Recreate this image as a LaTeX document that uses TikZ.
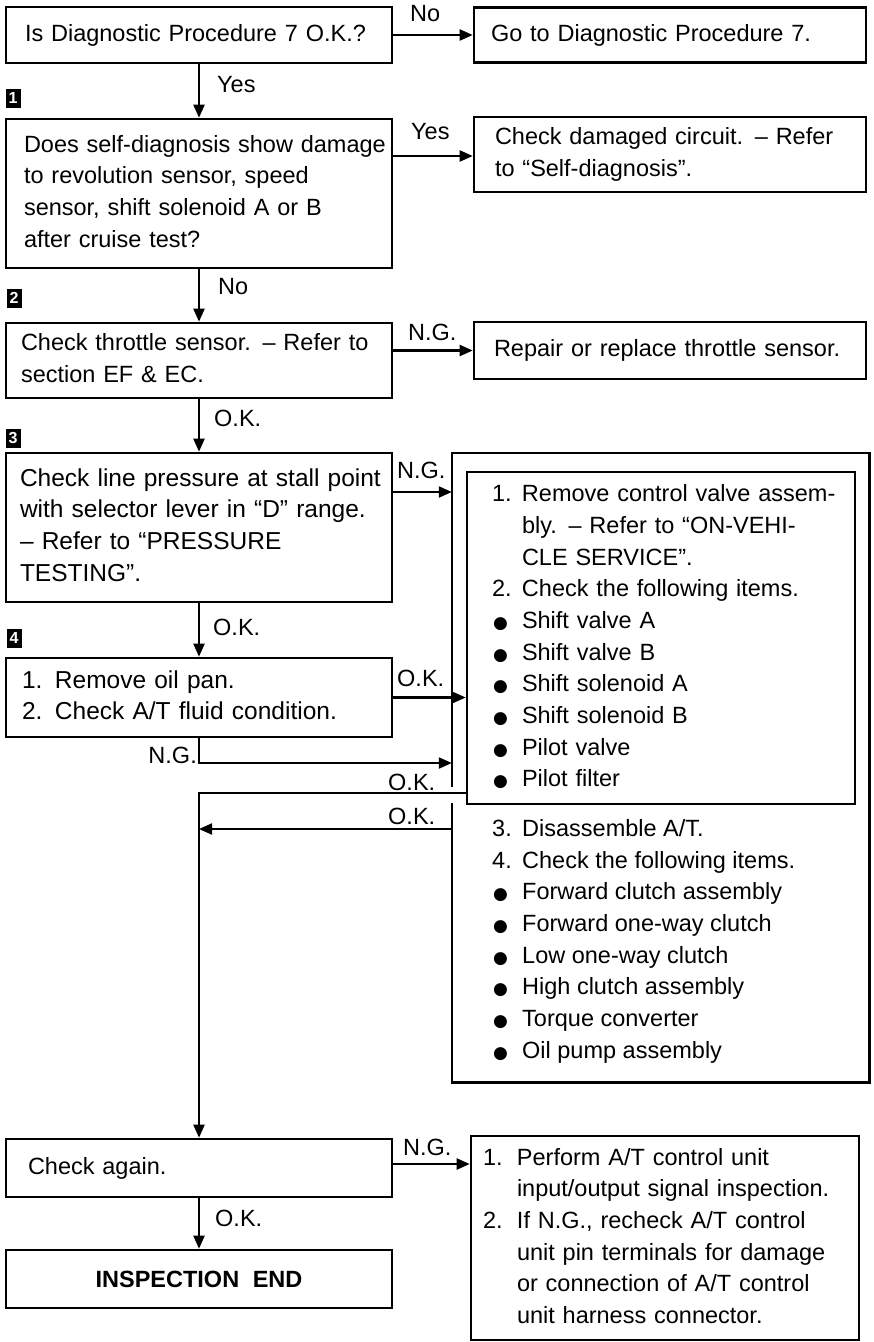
\documentclass[tikz,border=0pt]{standalone}
\usepackage{fontspec}
\setmainfont{Liberation Sans}
\newfontfamily\symf{DejaVu Sans}
\usetikzlibrary{arrows.meta}
\newcommand\fs{\fontsize{23.5}{31.7}\selectfont}
\newcommand\fsb{\fontsize{24.5}{31.7}\selectfont}
\newcommand\tb[1]{\begin{tabular}{@{}l@{}}#1\end{tabular}}
\newcommand\nmi[2]{\makebox[#1][l]{#2}}
\newcommand\bu{\makebox[30pt][l]{\hspace{1pt}{\symf\fontsize{17}{17}\selectfont ●}}}
\begin{document}
\begin{tikzpicture}[x=1pt,y=-1pt,
  box/.style={draw, line width=2.6pt, inner ysep=0pt, align=left, font=\fs},
  boxl/.style={line width=2.6pt},
  conn/.style={line width=2.2pt},
  arr/.style={conn, -{Triangle[length=13pt,width=11pt]}},
  lbl/.style={font=\fs, inner sep=0pt, anchor=west},
  numsq/.style={fill=black, text=white, font=\bfseries\fontsize{16}{16}\selectfont, minimum width=15pt, minimum height=19pt, inner sep=0pt}]
\useasboundingbox (0,0) rectangle (874,1342);
\fill[white] (0,0) rectangle (874,1342);

% boxes
\node[box, minimum width=386pt, minimum height=56pt, text width=348pt, inner xsep=19pt] (A) at (199,35) {\tb{Is Diagnostic Procedure 7 O.K.?}};
\node[box, minimum width=392pt, minimum height=55pt, text width=358pt, inner xsep=17pt] (B) at (670,35) {\tb{Go to Diagnostic Procedure 7.}};
\node[box, minimum width=386pt, minimum height=149pt, text width=350pt, inner xsep=18pt] (C) at (199,193.5) {\tb{Does self-diagnosis show damage\\ to revolution sensor, speed\\ sensor, shift solenoid A or B\\ after cruise test?}};
\node[box, minimum width=392pt, minimum height=75pt, text width=350pt, inner xsep=21pt] (D) at (670,154.5) {\tb{Check damaged circuit. -- Refer\\ to ``Self-diagnosis''.}};
\node[box, minimum width=386pt, minimum height=75pt, text width=356pt, inner xsep=15pt] (E) at (199,360.5) {\tb{Check throttle sensor. -- Refer to\\ section EF \& EC.}};
\node[box, minimum width=392pt, minimum height=57pt, text width=352pt, inner xsep=20pt] (F) at (670,350.5) {\tb{Repair or replace throttle sensor.}};
\node[box, font=\fsb, minimum width=386pt, minimum height=149pt, text width=358pt, inner xsep=14pt] (G) at (199,527.5) {\tb{Check line pressure at stall point\\ with selector lever in ``D'' range.\\ -- Refer to ``PRESSURE\\ TESTING''.}};
\node[box, font=\fsb, minimum width=386pt, minimum height=79pt, text width=354pt, inner xsep=16pt] (H) at (199,697.5) {\tb{\nmi{33pt}{1.}Remove oil pan.\\ \nmi{33pt}{2.}Check A/T fluid condition.}};

\node[draw=none, minimum width=417pt, minimum height=629pt, inner sep=0pt] (O) at (660.5,767.5) {};
\draw[boxl] (O.west |- 0,787) -- (O.north west) -- (O.north east) -- (O.south east) -- (O.south west) -- (O.west |- 0,803);

\node[box, minimum width=388pt, minimum height=332pt, text width=338pt, inner xsep=25pt] (IN) at (661,638) {\tb{\nmi{30pt}{1.}Remove control valve assem-\\ \nmi{30pt}{}bly. -- Refer to ``ON-VEHI-\\ \nmi{30pt}{}CLE SERVICE''.\\ \nmi{30pt}{2.}Check the following items.\\ \bu Shift valve A\\ \bu Shift valve B\\ \bu Shift solenoid A\\ \bu Shift solenoid B\\ \bu Pilot valve\\ \bu Pilot filter}};
\node[lbl] (L2) at (492,941) {\tb{\nmi{30pt}{3.}Disassemble A/T.\\ \nmi{30pt}{4.}Check the following items.\\ \bu Forward clutch assembly\\ \bu Forward one-way clutch\\ \bu Low one-way clutch\\ \bu High clutch assembly\\ \bu Torque converter\\ \bu Oil pump assembly}};

\node[box, minimum width=386pt, minimum height=58pt, text width=342pt, inner xsep=22pt] (I) at (199,1168) {\tb{Check again.}};
\node[box, minimum width=388pt, minimum height=204pt, text width=364pt, inner xsep=12pt] (J) at (665,1238) {\tb{\nmi{34pt}{1.}Perform A/T control unit\\ \nmi{34pt}{}input/output signal inspection.\\ \nmi{34pt}{2.}If N.G., recheck A/T control\\ \nmi{34pt}{}unit pin terminals for damage\\ \nmi{34pt}{}or connection of A/T control\\ \nmi{34pt}{}unit harness connector.}};
\node[box, minimum width=386pt, minimum height=58pt, align=center, font=\fs\bfseries] (K) at (199,1279) {INSPECTION\hspace{.3em} END};

% step numbers
\node[numsq] (n1) at (13,98) {1};
\node[numsq] (n2) at (14,298) {2};
\node[numsq] (n3) at (13,438) {3};
\node[numsq] (n4) at (14,638) {4};

% connectors
\draw[arr] (A.east) -- (A.east -| B.west);
\draw[arr] (A.south) -- (C.north);
\draw[arr] (C.east |- 0,156) -- (D.west |- 0,156);
\draw[arr] (C.south) -- (E.north);
\draw[arr] (E.east |- F.west) -- (F.west);
\draw[arr] (E.south) -- (G.north);
\draw[arr] (G.east |- 0,492) -- (O.west |- 0,492);
\draw[arr] (G.south) -- (H.north);
\draw[arr] (H.east) -- (H.east -| IN.west);
\draw[arr] (H.south) -- (H.south |- 0,763) -- (O.west |- 0,763);
\draw[arr] (IN.west |- 0,793) -| (I.north);
\draw[arr] (O.west |- 0,829) -- (I.north |- 0,829);
\draw[arr] (I.east |- 0,1164) -- (J.west |- 0,1164);
\draw[arr] (I.south) -- (K.north);

% labels
\node[lbl] (lno1) at (410,14) {No};
\node[lbl] (lyes1) at (217,85) {Yes};
\node[lbl] (lyes2) at (411,132) {Yes};
\node[lbl] (lno2) at (218,287) {No};
\node[lbl] (lng1) at (408,332) {N.G.};
\node[lbl] (lok1) at (214,418) {O.K.};
\node[lbl] (lng2) at (397,470) {N.G.};
\node[lbl] (lok2) at (213,627) {O.K.};
\node[lbl] (lok3) at (397,678) {O.K.};
\node[lbl, anchor=east] (lng3) at (197,755) {N.G.};
\node[lbl] (lok4) at (388,782) {O.K.};
\node[lbl] (lok5) at (388,816) {O.K.};
\node[lbl] (lng4) at (403,1147) {N.G.};
\node[lbl] (lok6) at (215,1218) {O.K.};
\end{tikzpicture}
\end{document}
